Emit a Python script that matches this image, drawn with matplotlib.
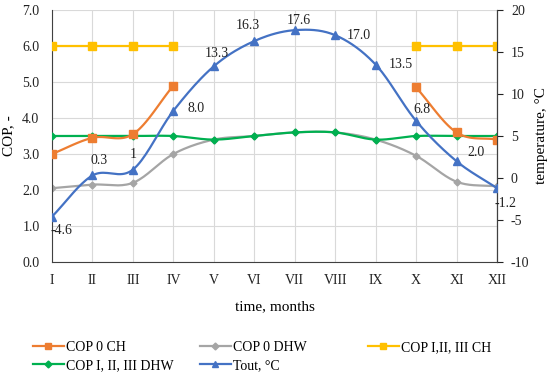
import numpy as np
import matplotlib
matplotlib.use('Agg')
import matplotlib.pyplot as plt
from matplotlib.lines import Line2D

plt.rcParams['font.family'] = ['Liberation Serif', 'DejaVu Serif']
plt.rcParams['font.size'] = 10
plt.rcParams['axes.unicode_minus'] = False

months = ['I', 'II', 'III', 'IV', 'V', 'VI', 'VII', 'VIII', 'IX', 'X', 'XI', 'XII']
nan = np.nan
cop0_ch = [3.0, 3.45, 3.55, 4.9, nan, nan, nan, nan, nan, 4.85, 3.6, 3.4]
cop0_dhw = [2.05, 2.15, 2.2, 3.0, 3.4, 3.5, 3.6, 3.6, 3.4, 2.95, 2.23, 2.1]
cop123_ch = [6.0, 6.0, 6.0, 6.0, nan, nan, nan, nan, nan, 6.0, 6.0, 6.0]
cop123_dhw = [3.5, 3.5, 3.5, 3.5, 3.4, 3.5, 3.6, 3.6, 3.4, 3.5, 3.5, 3.5]
tout = [-4.6, 0.3, 1.0, 8.0, 13.3, 16.3, 17.6, 17.0, 13.5, 6.8, 2.0, -1.2]
tout_labels = ['-4.6', '0.3', '1', '8.0', '13.3', '16.3', '17.6', '17.0', '13.5', '6.8', '2.0', '-1.2']


# Excel-like smoothed line (Bezier with Catmull-Rom tangents)
def smooth(x, y, n=20):
    x = np.asarray(x, float)
    y = np.asarray(y, float)
    if len(x) < 3:
        return x, y
    px = np.concatenate([[2 * x[0] - x[1]], x, [2 * x[-1] - x[-2]]])
    py = np.concatenate([[2 * y[0] - y[1]], y, [2 * y[-1] - y[-2]]])
    xs, ys = [], []
    t = np.linspace(0, 1, n)
    for i in range(1, len(px) - 2):
        p0, p1, p2, p3 = px[i - 1], px[i], px[i + 1], px[i + 2]
        q0, q1, q2, q3 = py[i - 1], py[i], py[i + 1], py[i + 2]
        b1x = p1 + (p2 - p0) / 6
        b2x = p2 - (p3 - p1) / 6
        b1y = q1 + (q2 - q0) / 6
        b2y = q2 - (q3 - q1) / 6
        bx = (1 - t) ** 3 * p1 + 3 * (1 - t) ** 2 * t * b1x + 3 * (1 - t) * t ** 2 * b2x + t ** 3 * p2
        by = (1 - t) ** 3 * q1 + 3 * (1 - t) ** 2 * t * b1y + 3 * (1 - t) * t ** 2 * b2y + t ** 3 * q2
        xs.extend(bx)
        ys.extend(by)
    return np.array(xs), np.array(ys)


def draw(ax, vals, color, marker, ms, zorder):
    vals = np.asarray(vals, float)
    idx = np.arange(len(vals))
    ok = ~np.isnan(vals)
    # split into continuous segments (gap in the CH series)
    segs = []
    cur = []
    for i in idx:
        if ok[i]:
            cur.append(i)
        elif cur:
            segs.append(cur)
            cur = []
    if cur:
        segs.append(cur)
    for s in segs:
        sx, sy = smooth(idx[s], vals[s])
        ax.plot(sx, sy, color=color, lw=1.6, zorder=zorder, solid_capstyle='round')
    ax.plot(idx[ok], vals[ok], ls='none', marker=marker, ms=ms, color=color, zorder=zorder + 0.1)


fig = plt.figure(figsize=(5.5, 3.75), dpi=100)
ax = fig.add_axes([52 / 550, 1 - 262 / 375, 445 / 550, 252 / 375])
ax2 = ax.twinx()

c_or = '#ED7D31'
c_gr = '#A5A5A5'
c_ye = '#FFC000'
c_gn = '#00B050'
c_bl = '#4472C4'

draw(ax, cop0_dhw, c_gr, 'D', 3.5, 2)
draw(ax, cop123_dhw, c_gn, 'D', 3.5, 3)
draw(ax, cop0_ch, c_or, 's', 5.5, 4)
draw(ax, cop123_ch, c_ye, 's', 5.5, 5)
draw(ax2, tout, c_bl, '^', 6, 6)

# data labels for Tout (offsets in points)
offsets = [(7, -10), (5, 11), (0, 11), (16, 2), (2, 9), (-5, 11), (3, 7),
           (17, 0), (18, 0), (4, 8), (14, 6), (6, -11)]
for i, (v, lab) in enumerate(zip(tout, tout_labels)):
    dx, dy = offsets[i]
    ax2.annotate(lab, (i, v), xytext=(dx, dy), textcoords='offset points',
                 ha='center', va='center', fontsize=10, color='#222222', zorder=7)

ax.set_xlim(0, 11)
ax.set_ylim(0, 7)
ax2.set_ylim(-10, 20)
ax.set_xticks(range(12))
ax.set_xticklabels(months)
ax.set_yticks(np.arange(0, 7.1, 1))
ax.set_yticklabels(['%.1f' % v for v in np.arange(0, 7.1, 1)])
ax2.set_yticks(np.arange(-10, 21, 5))

ax.grid(True, color='#D9D9D9', lw=0.8)
ax.set_axisbelow(True)
ax.tick_params(axis='y', length=0, pad=9, labelsize=10, colors='#222222')
ax.tick_params(axis='x', length=0, pad=9, labelsize=10, colors='#222222')
ax2.tick_params(axis='y', length=4, direction='out', labelsize=10, colors='#222222', pad=6)

for a in (ax, ax2):
    a.spines['top'].set_visible(False)
ax.spines['left'].set_color('#404040')
ax.spines['bottom'].set_color('#404040')
ax2.spines['right'].set_color('#404040')
ax2.spines['left'].set_visible(False)
ax2.spines['bottom'].set_visible(False)

ax.set_ylabel('COP, -', fontsize=11, labelpad=5)
ax2.set_ylabel('temperature, °C', fontsize=11, rotation=90, labelpad=4)
ax.set_xlabel('time, months', fontsize=11, labelpad=9)

h_or = Line2D([], [], color=c_or, lw=1.6, marker='s', ms=5)
h_gr = Line2D([], [], color=c_gr, lw=1.6, marker='D', ms=3.5)
h_ye = Line2D([], [], color=c_ye, lw=1.6, marker='s', ms=5)
h_gn = Line2D([], [], color=c_gn, lw=1.6, marker='D', ms=3.5)
h_bl = Line2D([], [], color=c_bl, lw=1.6, marker='^', ms=5)

# equal-width legend columns, filled row by row like Excel
columns = [
    ([h_or, h_gn], ['COP 0 CH', 'COP I, II, III DHW'], 33),
    ([h_gr, h_bl], ['COP 0 DHW', 'Tout, °C'], 200),
    ([h_ye], ['COP I,II, III CH'], 368),
]
for hs, ls, x0 in columns:
    fig.legend(hs, ls, loc='upper left', bbox_to_anchor=(x0 / 550, 1 - 341 / 375),
               frameon=False, handlelength=2.2, handletextpad=0.2,
               labelspacing=0.35, fontsize=10, borderaxespad=0, borderpad=0)

fig.savefig('out.png', dpi=100)
